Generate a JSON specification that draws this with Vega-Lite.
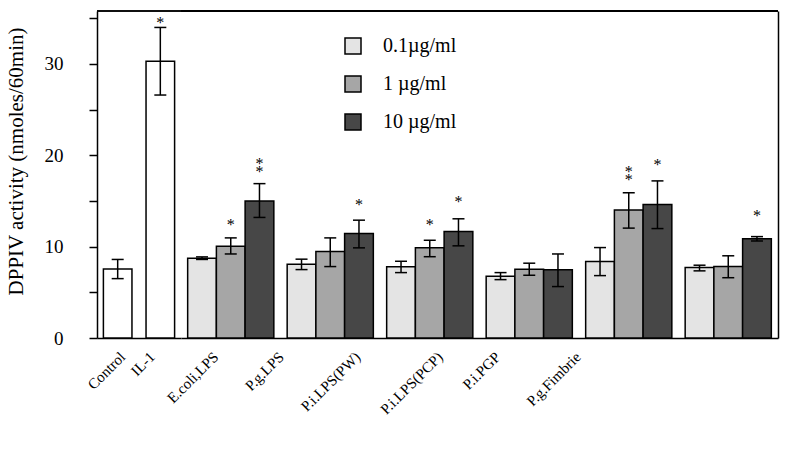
{
  "$schema": "https://vega.github.io/schema/vega-lite/v6.json",
  "padding": {"left": 5, "top": 10, "right": 11, "bottom": 5},
  "spacing": 0,
  "bounds": "flush",
  "config": {
    "view": {"stroke": null},
    "font": "Liberation Serif",
    "axis": {"domainColor": "black", "tickColor": "black", "labelColor": "black", "titleColor": "black", "labelFont": "Liberation Serif", "titleFont": "Liberation Serif", "titleFontWeight": "normal", "grid": false, "domainWidth": 1.5, "tickWidth": 1.5},
    "legend": {"labelFont": "Liberation Serif", "labelColor": "black"}
  },
  "datasets": {
    "bars": [
      {"group": "Control", "dose": "none", "value": 7.55, "lo": 6.5, "hi": 8.6},
      {"group": "IL-1", "dose": "none", "value": 30.3, "lo": 26.6, "hi": 34.0, "sig": ["*"], "sigY": 34.93},
      {"group": "E.coli,LPS", "dose": "0.1µg/ml", "value": 8.74, "lo": 8.6, "hi": 8.88},
      {"group": "E.coli,LPS", "dose": "1 µg/ml", "value": 10.05, "lo": 9.2, "hi": 10.96, "sig": ["*"], "sigY": 12.82},
      {"group": "E.coli,LPS", "dose": "10 µg/ml", "value": 14.99, "lo": 13.2, "hi": 16.9, "sig": ["*", "*"], "sigY": 19.48},
      {"group": "P.g.LPS", "dose": "0.1µg/ml", "value": 8.08, "lo": 7.49, "hi": 8.63},
      {"group": "P.g.LPS", "dose": "1 µg/ml", "value": 9.46, "lo": 7.82, "hi": 10.96},
      {"group": "P.g.LPS", "dose": "10 µg/ml", "value": 11.44, "lo": 9.87, "hi": 12.9, "sig": ["*"], "sigY": 15.02},
      {"group": "P.i.LPS(PW)", "dose": "0.1µg/ml", "value": 7.79, "lo": 7.16, "hi": 8.4},
      {"group": "P.i.LPS(PW)", "dose": "1 µg/ml", "value": 9.87, "lo": 8.9, "hi": 10.7, "sig": ["*"], "sigY": 12.82},
      {"group": "P.i.LPS(PW)", "dose": "10 µg/ml", "value": 11.66, "lo": 10.09, "hi": 13.05, "sig": ["*"], "sigY": 15.38},
      {"group": "P.i.LPS(PCP)", "dose": "0.1µg/ml", "value": 6.77, "lo": 6.39, "hi": 7.16},
      {"group": "P.i.LPS(PCP)", "dose": "1 µg/ml", "value": 7.53, "lo": 6.87, "hi": 8.19},
      {"group": "P.i.LPS(PCP)", "dose": "10 µg/ml", "value": 7.46, "lo": 5.63, "hi": 9.2},
      {"group": "P.i.PGP", "dose": "0.1µg/ml", "value": 8.37, "lo": 6.83, "hi": 9.9},
      {"group": "P.i.PGP", "dose": "1 µg/ml", "value": 14.0, "lo": 12.03, "hi": 15.9, "sig": ["*", "*"], "sigY": 18.56},
      {"group": "P.i.PGP", "dose": "10 µg/ml", "value": 14.62, "lo": 11.98, "hi": 17.2, "sig": ["*"], "sigY": 19.4},
      {"group": "P.g.Fimbrie", "dose": "0.1µg/ml", "value": 7.71, "lo": 7.35, "hi": 7.97},
      {"group": "P.g.Fimbrie", "dose": "1 µg/ml", "value": 7.82, "lo": 6.6, "hi": 9.0},
      {"group": "P.g.Fimbrie", "dose": "10 µg/ml", "value": 10.86, "lo": 10.62, "hi": 11.1, "sig": ["*"], "sigY": 13.84}
    ]
  },
  "hconcat": [
    {
      "width": 84,
      "height": 327,
      "data": {"name": "bars"},
      "transform": [{"filter": "datum.dose === 'none'"}],
      "encoding": {
        "x": {"field": "group", "type": "nominal", "sort": ["Control", "IL-1"],
          "scale": {"paddingInner": 0.33, "paddingOuter": 0.15},
          "axis": {"title": null, "ticks": false, "labelAngle": -45, "labelAlign": "right", "labelBaseline": "middle", "labelPadding": 16, "labelFontSize": 15,
            "labelOffset": {"condition": [{"test": "datum.value === 'Control'", "value": 5}], "value": -8}}}
      },
      "layer": [
        {"mark": {"type": "rule", "stroke": "black", "strokeWidth": 1.5}, "encoding": {"x": null, "y": {"datum": 35.8, "type": "quantitative", "scale": {"domain": [0, 35.8], "nice": false}}}},
        {"mark": {"type": "bar", "fill": "white", "stroke": "black", "strokeWidth": 1.5},
          "encoding": {"y": {"field": "value", "type": "quantitative", "scale": {"domain": [0, 35.8], "nice": false},
            "axis": {"title": "DPPIV activity (nmoles/60min)", "values": [0, 5, 10, 15, 20, 25, 30, 35], "labelExpr": "datum.value % 10 === 0 ? datum.label : ''", "tickSize": 8, "labelPadding": 26, "labelFontSize": 19, "titleFontSize": 21, "titlePadding": 18, "titleY": 150}}}},
        {"mark": {"type": "rule", "stroke": "black", "strokeWidth": 1.5}, "encoding": {"y": {"field": "lo", "type": "quantitative"}, "y2": {"field": "hi"}}},
        {"mark": {"type": "tick", "orient": "horizontal", "color": "black", "size": 12, "thickness": 1.5, "opacity": 1}, "encoding": {"y": {"field": "lo", "type": "quantitative"}}},
        {"mark": {"type": "tick", "orient": "horizontal", "color": "black", "size": 12, "thickness": 1.5, "opacity": 1}, "encoding": {"y": {"field": "hi", "type": "quantitative"}}},
        {"transform": [{"filter": "isValid(datum.sig)"}], "mark": {"type": "text", "fontSize": 16, "lineHeight": 8, "baseline": "alphabetic", "dy": 9, "fill": "black", "color": "black"}, "encoding": {"y": {"field": "sigY", "type": "quantitative"}, "text": {"field": "sig", "type": "nominal"}}}
      ]
    },
    {
      "width": 597,
      "height": 327,
      "data": {"name": "bars"},
      "transform": [{"filter": "datum.dose !== 'none'"}],
      "encoding": {
        "x": {"field": "group", "type": "nominal", "sort": ["E.coli,LPS", "P.g.LPS", "P.i.LPS(PW)", "P.i.LPS(PCP)", "P.i.PGP", "P.g.Fimbrie"],
          "scale": {"paddingInner": 0.134, "paddingOuter": 0.067},
          "axis": {"title": null, "ticks": false, "labelAngle": -45, "labelAlign": "right", "labelBaseline": "middle", "labelPadding": 16, "labelFontSize": 15,
            "labelOffset": {"condition": [
              {"test": "datum.value === 'E.coli,LPS'", "value": -15},
              {"test": "datum.value === 'P.g.LPS'", "value": -49},
              {"test": "datum.value === 'P.i.LPS(PW)'", "value": -72},
              {"test": "datum.value === 'P.i.LPS(PCP)'", "value": -89},
              {"test": "datum.value === 'P.i.PGP'", "value": -131}], "value": -150}}},
        "xOffset": {"field": "dose", "type": "nominal", "sort": ["0.1µg/ml", "1 µg/ml", "10 µg/ml"], "scale": {"paddingInner": 0, "paddingOuter": 0}}
      },
      "layer": [
        {"mark": {"type": "rule", "stroke": "black", "strokeWidth": 1.5}, "encoding": {"x": null, "xOffset": null, "y": {"datum": 35.8, "type": "quantitative", "scale": {"domain": [0, 35.8], "nice": false}}}},
        {"mark": {"type": "bar", "stroke": "black", "strokeWidth": 1.5},
          "encoding": {
            "y": {"field": "value", "type": "quantitative", "scale": {"domain": [0, 35.8], "nice": false},
              "axis": {"orient": "right", "labels": false, "ticks": false, "title": null, "domainWidth": 1.5}},
            "fill": {"field": "dose", "type": "nominal", "sort": ["0.1µg/ml", "1 µg/ml", "10 µg/ml"],
              "scale": {"range": ["#e4e4e4", "#a6a6a6", "#474747"]},
              "legend": {"title": null, "orient": "none", "legendX": 246, "legendY": 25, "symbolType": "square", "symbolSize": 256, "symbolStrokeColor": "black", "symbolStrokeWidth": 1.5, "symbolOpacity": 1, "labelFontSize": 20, "labelOffset": 20, "rowPadding": 16}}
          }},
        {"mark": {"type": "rule", "stroke": "black", "strokeWidth": 1.5}, "encoding": {"y": {"field": "lo", "type": "quantitative"}, "y2": {"field": "hi"}}},
        {"mark": {"type": "tick", "orient": "horizontal", "color": "black", "size": 12, "thickness": 1.5, "opacity": 1}, "encoding": {"y": {"field": "lo", "type": "quantitative"}}},
        {"mark": {"type": "tick", "orient": "horizontal", "color": "black", "size": 12, "thickness": 1.5, "opacity": 1}, "encoding": {"y": {"field": "hi", "type": "quantitative"}}},
        {"transform": [{"filter": "isValid(datum.sig)"}], "mark": {"type": "text", "fontSize": 16, "lineHeight": 8, "baseline": "alphabetic", "dy": 9, "fill": "black", "color": "black"}, "encoding": {"y": {"field": "sigY", "type": "quantitative"}, "text": {"field": "sig", "type": "nominal"}}}
      ]
    }
  ]
}
